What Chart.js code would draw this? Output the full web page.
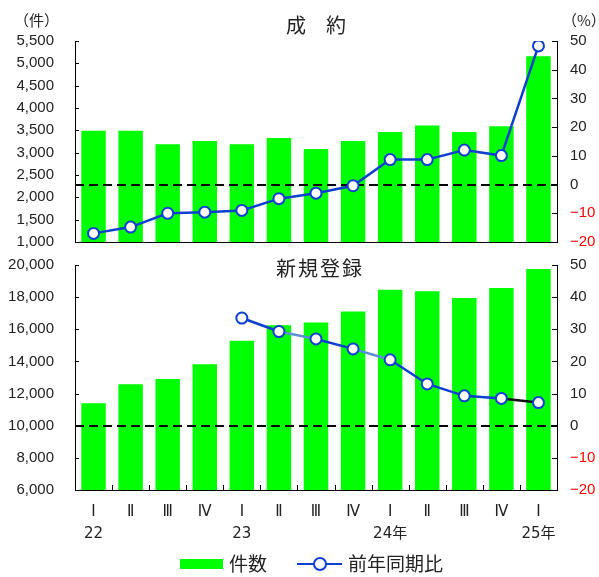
<!DOCTYPE html>
<html lang="ja">
<head>
<meta charset="utf-8">
<title>成約・新規登録</title>
<script src="https://cdn.jsdelivr.net/npm/chart.js@4.4.1/dist/chart.umd.min.js"></script>
<style>
  body {
    margin: 0;
    width: 599px;
    height: 577px;
    position: relative;
    overflow: hidden;
    background: #fff;
    color: #222;
    font-family: "Liberation Sans", Arial, "Noto Sans CJK JP", sans-serif;
  }
  canvas { position: absolute; left: 0; }
  #topChart { top: 0; }
  #bottomChart { top: 250px; }
  .txt {
    position: absolute;
    white-space: nowrap;
    font-family: "Noto Sans CJK JP", sans-serif;
  }
  .unit { font-size: 15px; line-height: 20px; top: 10px; }
  .title { font-size: 20px; line-height: 24px; transform: translateX(-50%); }
  .legend { top: 552px; font-size: 19px; line-height: 22px; }
  .swatch { position: absolute; left: 180px; top: 559px; width: 43px; height: 10px; background: #00ff00; }
  .lline { position: absolute; left: 297px; top: 563px; width: 45px; height: 2px; background: #0a3fd0; }
  .ldot {
    position: absolute; left: 313px; top: 557px; width: 10px; height: 10px;
    border: 2px solid #0a3fd0; border-radius: 50%; background: #fff;
  }
</style>
</head>
<body>
<canvas id="topChart" width="599" height="250"></canvas>
<canvas id="bottomChart" width="599" height="300"></canvas>

<div class="txt unit" style="left:14px">（件）</div>
<div class="txt unit" style="left:562px">（%）</div>
<div class="txt title" style="left:316px; top:13px">成　約</div>
<div class="txt title" style="left:320px; top:256px; letter-spacing:2px">新規登録</div>

<div class="swatch"></div>
<div class="txt legend" style="left:229px">件数</div>
<div class="lline"></div>
<div class="ldot"></div>
<div class="txt legend" style="left:348px">前年同期比</div>

<script>
const quarters = ["Ⅰ", "Ⅱ", "Ⅲ", "Ⅳ", "Ⅰ", "Ⅱ", "Ⅲ", "Ⅳ", "Ⅰ", "Ⅱ", "Ⅲ", "Ⅳ", "Ⅰ"];
const years = ["22", "", "", "", "23", "", "", "", "24年", "", "", "", "25年"];

// 成約
const contractCounts = [3490, 3490, 3190, 3260, 3190, 3330, 3080, 3260, 3460, 3610, 3460, 3590, 5160];
const contractYoY = [-17.0, -14.8, -10.0, -9.6, -9.0, -4.9, -3.0, -0.4, 8.7, 8.7, 12.0, 10.1, 48.3];

// 新規登録
const listingCounts = [11400, 12580, 12910, 13820, 15290, 16250, 16430, 17100, 18460, 18360, 17950, 18570, 19750];
const listingYoY = [null, null, null, null, 33.5, 29.3, 27.0, 23.9, 20.5, 13.0, 9.3, 8.5, 7.2];

const GREEN = "#00ff00";
const BLUE = "#0a3fd0";
const TEXT = "#222";
const NUM_FONT = { family: "'Liberation Sans', Arial, sans-serif", size: 15, lineHeight: 1 };

// a few segments of the listing line come out in a different tint
const listingSegTint = { 5: "#5b8ed6", 7: "#5b8ed6", 11: "#111" };

// dashed 0% line, drawn over the bars but under the line series
const zeroLine = {
  id: "zeroLine",
  beforeDatasetDraw(chart, args) {
    if (args.meta.type !== "line") return;
    const { ctx, chartArea: a, scales } = chart;
    const y = Math.round(scales.y2.getPixelForValue(0));
    ctx.save();
    ctx.strokeStyle = "#000";
    ctx.lineWidth = 2;
    ctx.setLineDash([9, 5]);
    ctx.beginPath();
    ctx.moveTo(a.left, y);
    ctx.lineTo(a.right, y);
    ctx.stroke();
    ctx.restore();
  },
};

// short tick marks pointing into the plot
const innerTicks = {
  id: "innerTicks",
  afterDatasetsDraw(chart, args, opts) {
    const { ctx, chartArea: a, scales } = chart;
    ctx.save();
    ctx.strokeStyle = "#000";
    ctx.lineWidth = 1;
    ctx.beginPath();
    scales.y.ticks.forEach((t) => {
      const y = Math.round(scales.y.getPixelForValue(t.value)) + 0.5;
      ctx.moveTo(a.left, y);
      ctx.lineTo(a.left + 4, y);
    });
    scales.y2.ticks.forEach((t) => {
      const y = Math.round(scales.y2.getPixelForValue(t.value)) + 0.5;
      ctx.moveTo(a.right, y);
      ctx.lineTo(a.right - 5, y);
    });
    if (opts.between) {
      for (let i = 1; i < quarters.length; i++) {
        const x = Math.round((scales.x.getPixelForValue(i - 1) + scales.x.getPixelForValue(i)) / 2) + 0.5;
        ctx.moveTo(x, a.bottom);
        ctx.lineTo(x, a.bottom - 5);
      }
    }
    ctx.stroke();
    ctx.restore();
  },
};

// fixed axis width; the big label gap must not eat into the plot height
function fixWidth(w) {
  return (s) => {
    s.width = w;
    s.paddingTop = 0;
    s.paddingBottom = 0;
  };
}

function makeChart(id, counts, yoy, opt) {
  return new Chart(document.getElementById(id), {
    type: "bar",
    data: {
      labels: quarters,
      datasets: [
        {
          type: "line",
          label: "前年同期比",
          data: yoy,
          yAxisID: "y2",
          order: 0,
          borderColor: BLUE,
          borderWidth: 2.5,
          pointRadius: 5.5,
          pointBorderWidth: 2,
          pointBackgroundColor: "#fff",
          pointBorderColor: BLUE,
          segment: { borderColor: (c) => (opt.tint && opt.tint[c.p0DataIndex]) || BLUE },
        },
        {
          label: "件数",
          data: counts,
          yAxisID: "y",
          order: 1,
          backgroundColor: GREEN,
          categoryPercentage: 1,
          barPercentage: 0.66,
        },
      ],
    },
    options: {
      responsive: false,
      animation: false,
      devicePixelRatio: 1,
      layout: { autoPadding: false, padding: { top: opt.padTop, left: 0, right: 0, bottom: 0 } },
      plugins: {
        legend: { display: false },
        tooltip: { enabled: false },
        innerTicks: { between: opt.showX },
      },
      scales: {
        x: {
          grid: { display: false, drawTicks: false },
          border: { display: true, color: "#000", width: 1 },
          ticks: {
            display: opt.showX,
            padding: 11,
            color: TEXT,
            font: { family: "'DejaVu Sans', 'Noto Sans CJK JP', sans-serif", size: 15, lineHeight: "22px" },
            maxRotation: 0,
            autoSkip: false,
            callback: (v, i) => [quarters[i], years[i]],
          },
          afterFit: (s) => { s.height = opt.xHeight; },
        },
        y: {
          position: "left",
          min: opt.min,
          max: opt.max,
          grid: { drawOnChartArea: false, drawTicks: false },
          border: { display: true, color: "#000", width: 1 },
          ticks: {
            stepSize: opt.step,
            padding: 21,
            color: TEXT,
            font: NUM_FONT,
            callback: (v) => v.toLocaleString("en-US"),
          },
          afterFit: fixWidth(75),
        },
        y2: {
          position: "right",
          min: -20,
          max: 50,
          grid: { drawOnChartArea: false, drawTicks: false },
          border: { display: true, color: "#000", width: 1 },
          ticks: {
            stepSize: 10,
            padding: 13,
            font: NUM_FONT,
            color: (c) => (c.tick.value < 0 ? "#ff0000" : TEXT),
            callback: (v) => (v < 0 ? "\u2212" + Math.abs(v) : String(v)),
          },
          afterFit: fixWidth(42),
        },
      },
    },
    plugins: [zeroLine, innerTicks],
  });
}

makeChart("topChart", contractCounts, contractYoY, {
  padTop: 41, xHeight: 8, showX: false, min: 1000, max: 5500, step: 500,
});

makeChart("bottomChart", listingCounts, listingYoY, {
  padTop: 15, xHeight: 60, showX: true, min: 6000, max: 20000, step: 2000, tint: listingSegTint,
});
</script>
</body>
</html>
